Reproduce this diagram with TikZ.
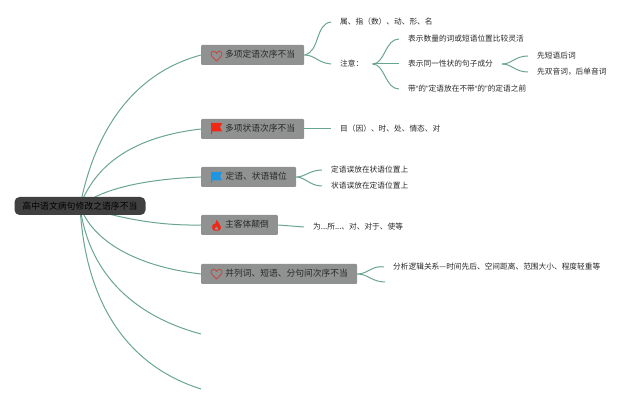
\documentclass[tikz,border=0pt]{standalone}
\usepackage{xcolor}
\usepackage{fontspec}
\setmainfont{Noto Sans CJK SC}
\newfontfamily\quotefont{Liberation Sans}
\newcommand{\qopen}{{\quotefont “}}
\newcommand{\qclose}{{\quotefont ”}}
\usetikzlibrary{backgrounds}
\definecolor{mmLine}   {RGB}{106,165,144}
\definecolor{mmGrey}   {RGB}{144,146,145}
\definecolor{mmDark}   {RGB}{ 64, 64, 64}
\definecolor{mmText}   {RGB}{ 40, 40, 40}
\definecolor{mmHeart}  {RGB}{196, 72, 66}
\definecolor{mmRed}    {RGB}{240, 40, 20}
\definecolor{mmBlue}   {RGB}{ 30,150,225}

\begin{document}
\begin{tikzpicture}[
  x=1pt,y=-1pt,
  root/.style  ={fill=mmDark,rounded corners=5pt,text=black,anchor=center,
                 minimum width=131pt,minimum height=18pt,inner sep=0pt,
                 font=\fontsize{8.85}{11}\selectfont},
  branch/.style={fill=mmGrey,rounded corners=1pt,text=mmText,anchor=west,
                 minimum height=20pt,inner ysep=0pt,inner xsep=0pt,
                 text depth=1.5pt,
                 font=\fontsize{8.75}{10}\selectfont},
  leaf/.style  ={anchor=west,inner xsep=9pt,inner ysep=1pt,text=mmText,
                 font=\fontsize{7.7}{9}\selectfont},
  link/.style  ={draw=mmLine,line width=1pt},
  heart/.pic={\draw[mmHeart,line width=0.8pt,line join=round]
     (0,5) .. controls (-2,2.5) and (-5.5,0.5) .. (-5.5,-2)
     .. controls (-5.5,-5.5) and (-1,-5.5) .. (0,-2.5)
     .. controls (1,-5.5) and (5.5,-5.5) .. (5.5,-2)
     .. controls (5.5,0.5) and (2,2.5) .. (0,5) -- cycle;},
  banner/.pic={\fill[pic actions]
     (-5.5,-5) -- (5.5,-5) -- (3.5,-1) -- (5.5,3.5) -- (-4.5,3.5) -- (-4.5,6) -- (-5.5,6) -- cycle;},
  flame/.pic={\fill[mmRed]
     (0,-5.5) .. controls (1,-3) and (4.5,-1.5) .. (4.5,2)
     .. controls (4.5,4.5) and (2.5,5.5) .. (0,5.5)
     .. controls (-2.5,5.5) and (-4.5,4.5) .. (-4.5,2)
     .. controls (-4.5,0) and (-3.5,-1) .. (-2.5,-2)
     .. controls (-2.5,-1) and (-2,-0.5) .. (-1.5,-0.5)
     .. controls (-1,-2) and (-1,-4) .. (0,-5.5) -- cycle;
     \fill[mmGrey] (0,1) .. controls (1,2) and (1.8,3) .. (1.5,4)
     .. controls (1,5) and (-1,5) .. (-1.5,4)
     .. controls (-1.8,3) and (-1,2) .. (0,1) -- cycle;}
]
\useasboundingbox (0,0) rectangle (640,403);
\node[root] (R) at (80,206) {高中语文病句修改之语序不当};

\node[branch,minimum width=103pt] (B1) at (201,55)
  {\hspace*{24pt}多项定语次序不当\hspace*{9pt}};
\node[branch,minimum width=103pt] (B2) at (201,129)
  {\hspace*{24pt}多项状语次序不当\hspace*{9pt}};
\node[branch,minimum width=95pt] (B3) at (201,177)
  {\hspace*{24pt}定语、状语错位\hspace*{9pt}};
\node[branch,minimum width=76pt] (B4) at (201,225)
  {\hspace*{24pt}主客体颠倒\hspace*{9pt}};
\node[branch,minimum width=156pt] (B5) at (201,274)
  {\hspace*{24pt}并列词、短语、分句间次序不当\hspace*{9pt}};
\coordinate (B6) at (201,334);
\coordinate (B7) at (201,389);

\pic at (216.5,56) {heart};
\pic[mmRed] at (216.5,128) {banner};
\pic[mmBlue] at (216.5,177) {banner};
\pic at (216.5,225.5) {flame};
\pic at (216.5,274) {heart};

\node[leaf] (L1) at (331,22) {属、指（数）、动、形、名};
\node[leaf] (L2) at (331,64) {注意：};
\node[leaf] (L3) at (399,39) {表示数量的词或短语位置比较灵活};
\node[leaf] (L4) at (399,64) {表示同一性状的句子成分};
\node[leaf] (L5) at (399,89) {带\qopen 的\qclose 定语放在不带\qopen 的\qclose 的定语之前};
\node[leaf] (L6) at (528,56) {先短语后词};
\node[leaf] (L7) at (528,72) {先双音词，后单音词};
\node[leaf] (L8) at (331,129) {目（因）、时、处、情态、对};
\node[leaf] (L9) at (322,170) {定语误放在状语位置上};
\node[leaf] (L10) at (322,186) {状语误放在定语位置上};
\node[leaf] (L11) at (304,227) {为...所...、对、对于、使等};
\node[leaf] (L12) at (384,267) {分析逻辑关系—时间先后、空间距离、范围大小、程度轻重等};
\coordinate (L13) at (385,282);

\begin{scope}[on background layer]
\draw[link] (R.center) .. controls (98,115) and (145,70) .. (B1.west);
\draw[link] (R.center) .. controls (97,160) and (140,136) .. (B2.west);
\draw[link] (R.center) .. controls (105,187) and (150,179) .. (B3.west);
\draw[link] (R.center) .. controls (110,215) and (150,226) .. (B4.west);
\draw[link] (R.center) .. controls (93,243) and (140,267) .. (B5.west);
\draw[link] (R.center) .. controls (88,270) and (130,315) .. (B6);
\draw[link] (R.center) .. controls (85,300) and (125,365) .. (B7);
\end{scope}

\draw[link] (B1.east) .. controls (320,52) and (315,24) .. (L1.west);
\draw[link] (B1.east) .. controls (315,55) and (318,63) .. (L2.west);
\foreach \j in {L3,L4,L5} \draw[link] (L2.east) .. controls (385,64) and (385,64 |- \j.west) .. (\j.west);
\foreach \j in {L6,L7} \draw[link] (L4.east) .. controls (512,64) and (515,64 |- \j.west) .. (\j.west);
\draw[link] (B2.east) -- (L8.west);
\foreach \j in {L9,L10} \draw[link] (B3.east) .. controls (305,177) and (310,177 |- \j.west) .. (\j.west);
\draw[link] (B4.east) -- (L11.west);
\draw[link] (B5.east) .. controls (368,274) and (372,265) .. (L12.west);
\draw[link] (B5.east) .. controls (368,274) and (372,282) .. (L13);
\end{tikzpicture}
\end{document}
